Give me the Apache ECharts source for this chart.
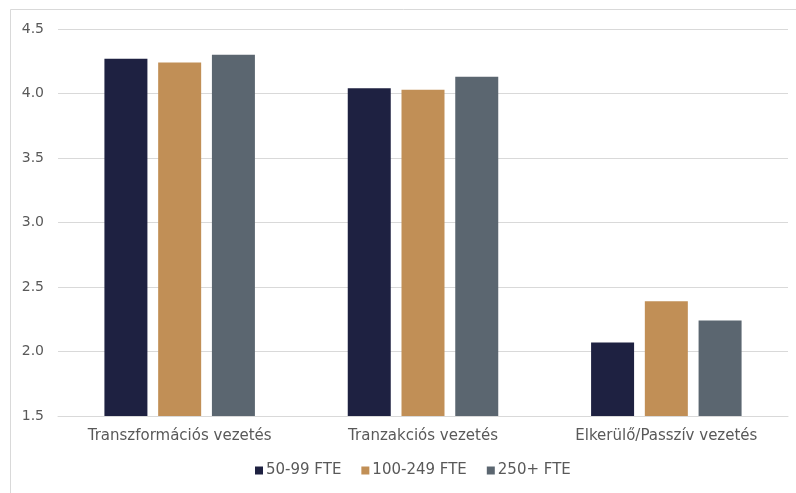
<!DOCTYPE html>
<html>
<head>
<meta charset="utf-8">
<script src="https://cdn.jsdelivr.net/npm/echarts@6/dist/echarts.min.js"></script>
<style>
  html, body { margin: 0; padding: 0; background: #ffffff; }
  #chart { width: 796px; height: 493px; }
</style>
</head>
<body>
<div id="chart"></div>
<script>
// Leadership style scores by company size
const categories = ['Transzformációs vezetés', 'Tranzakciós vezetés', 'Elkerülő/Passzív vezetés'];
const seriesNames = ['50-99 FTE', '100-249 FTE', '250+ FTE'];
const values50to99 = [4.27, 4.04, 2.07];
const values100to249 = [4.24, 4.03, 2.39];
const values250plus = [4.30, 4.13, 2.24];
const yTicks = { min: 1.5, max: 4.5, interval: 0.5 };

const colors = ['#1E2141', '#C18F56', '#5B6670'];
const textColor = '#595959';
const font = '"DejaVu Sans", sans-serif';

const chart = echarts.init(document.getElementById('chart'));
const dataSets = [values50to99, values100to249, values250plus];

chart.setOption({
  animation: false,
  backgroundColor: '#ffffff',
  color: colors,
  graphic: [{
    type: 'rect',
    shape: { x: 10.5, y: 9.5, width: 820, height: 520 },
    style: { fill: 'none', stroke: '#d9d9d9', lineWidth: 1 },
    silent: true
  }],
  grid: { left: 58, right: 8, top: 29, bottom: 77, containLabel: false },
  legend: {
    bottom: 10,
    left: 250,
    itemWidth: 8,
    itemHeight: 8,
    itemGap: 20,
    icon: 'rect',
    textStyle: { color: textColor, fontSize: 15, fontFamily: font, padding: [0, 0, 0, -2] },
    data: seriesNames
  },
  xAxis: {
    type: 'category',
    data: categories,
    axisLine: { lineStyle: { color: '#d9d9d9', width: 1 } },
    axisTick: { show: false },
    axisLabel: { color: textColor, fontSize: 15, fontFamily: font, margin: 13 }
  },
  yAxis: {
    type: 'value',
    min: yTicks.min,
    max: yTicks.max,
    interval: yTicks.interval,
    axisLine: { show: false },
    axisTick: { show: false },
    splitLine: { lineStyle: { color: '#d9d9d9', width: 1 } },
    axisLabel: {
      color: textColor, fontSize: 14, fontFamily: font, margin: 14,
      formatter: v => v.toFixed(1)
    }
  },
  series: seriesNames.map((name, i) => ({
    name,
    type: 'bar',
    data: dataSets[i],
    barWidth: 43,
    barGap: '25%',
    itemStyle: { color: colors[i] }
  }))
});
</script>
</body>
</html>
